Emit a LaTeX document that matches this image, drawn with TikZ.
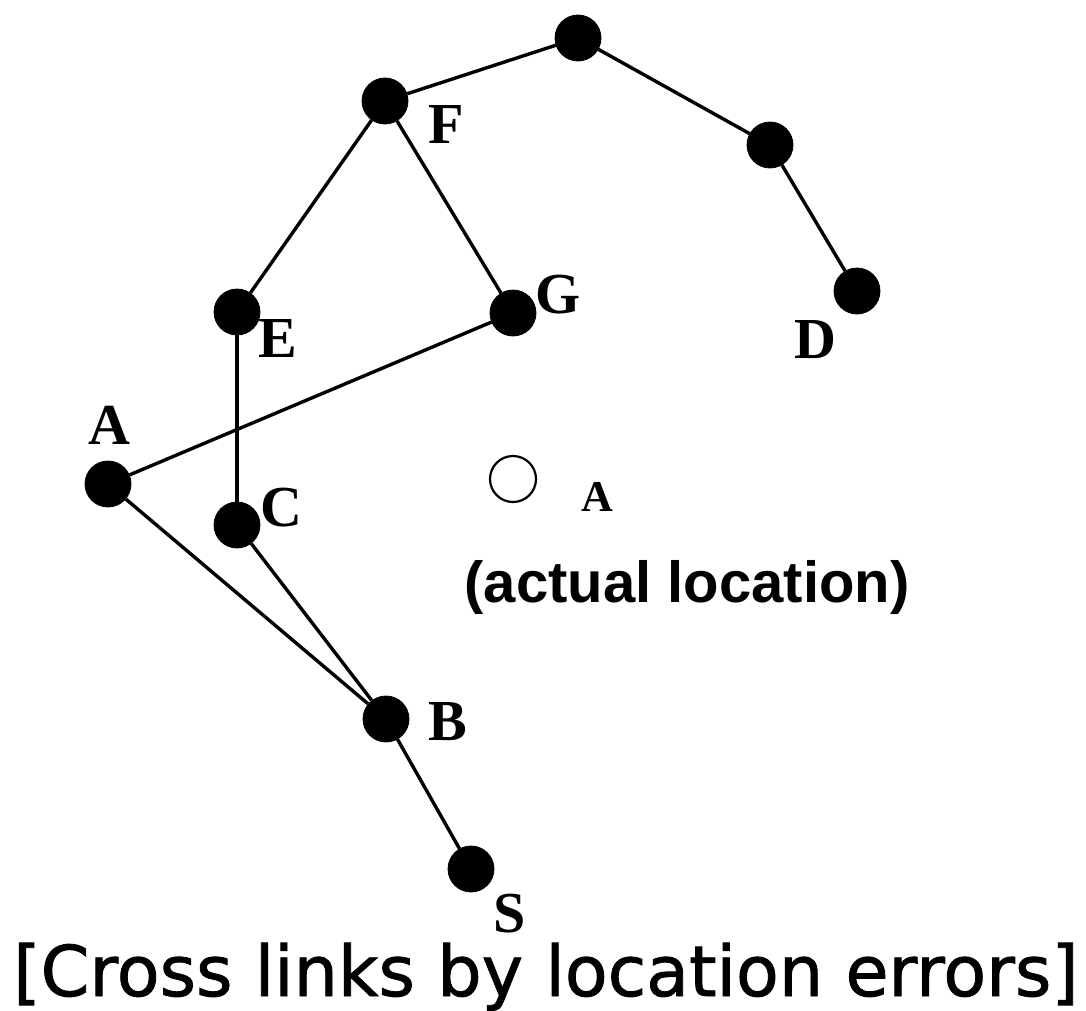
\documentclass[tikz,border=0pt]{standalone}
\usepackage{fontspec}
\setmainfont{Liberation Serif}
\newfontfamily\locfont{Liberation Sans}
\newfontfamily\capfont[FakeBold=1.2]{DejaVu Sans}
\usepackage{tikz}
\usetikzlibrary{positioning}

\begin{document}
\begin{tikzpicture}[
    x=0.5pt, y=-0.5pt,
    sensor/.style={circle, fill=black, draw=black, inner sep=0pt, minimum size=23pt},
    ghost/.style={circle, draw=black, line width=1.1pt, inner sep=0pt, minimum size=23pt},
    link/.style={draw=black, line width=1.7pt},
    tag/.style={font=\fontsize{29}{29}\selectfont\bfseries, inner sep=0pt},
    smalltag/.style={font=\fontsize{22}{22}\selectfont\bfseries, inner sep=0pt}
]
\useasboundingbox (0,0) rectangle (1086,1011);

% Sensor nodes
\node[sensor] (top) at (578,38) {};
\node[sensor] (f) at (385,101) {};
\node[sensor] (r) at (770,145) {};
\node[sensor] (d) at (857,291) {};
\node[sensor] (e) at (237,312) {};
\node[sensor] (g) at (513,313) {};
\node[sensor] (a) at (108,484) {};
\node[sensor] (c) at (237,525) {};
\node[sensor] (b) at (386,719) {};
\node[sensor] (s) at (471,869) {};

% Actual location of A
\node[ghost] (aa) at (513,479) {};

% Links
\draw[link] (top) -- (f);
\draw[link] (top) -- (r);
\draw[link] (r) -- (d);
\draw[link] (f) -- (e);
\draw[link] (f) -- (g);
\draw[link] (e) -- (c);
\draw[link] (g) -- (a);
\draw[link] (a) -- (b);
\draw[link] (c) -- (b);
\draw[link] (b) -- (s);

% Labels
\node[tag] (lf) at (446,125) {F};
\node[tag] (lg) at (558,295) {G};
\node[tag] (ld) at (815,340) {D};
\node[tag] (le) at (278,339) {E};
\node[tag] (la) at (109,425) {A};
\node[tag] (lc) at (281,508) {C};
\node[tag] (lb) at (448,722) {B};
\node[tag] (ls) at (510,914) {S};
\node[smalltag] (laa) at (597,497) {A};
\node[font=\fontsize{29}{29}\selectfont\locfont\bfseries, inner sep=0pt] (loc) at (687,587) {(actual location)};

% Caption
\node[font=\fontsize{35}{35}\selectfont\capfont, anchor=base, inner sep=0pt] (cap) at (546,996) {[Cross links by location errors]};

\end{tikzpicture}
\end{document}
